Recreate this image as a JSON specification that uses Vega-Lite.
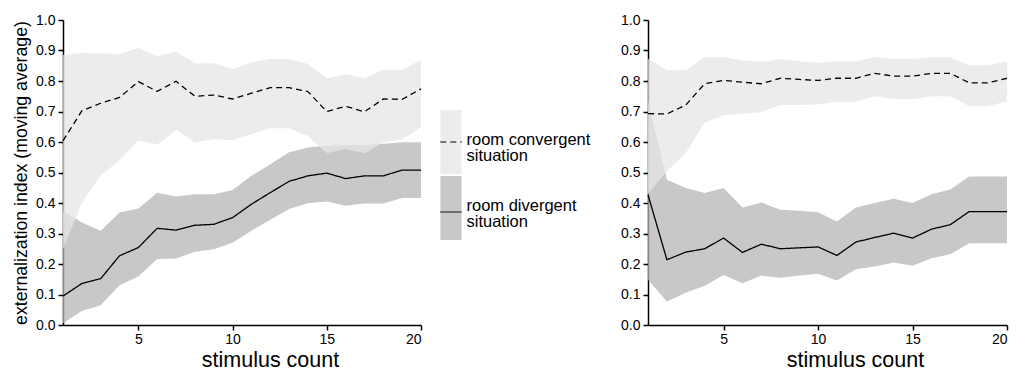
{
  "$schema": "https://vega.github.io/schema/vega-lite/v6.json",
  "padding": {"left": 12, "top": 13, "right": 0, "bottom": 0},
  "background": "white",
  "config": {
    "view": {"stroke": null},
    "font": "Liberation Sans",
    "axis": {"grid": false, "domainColor": "#000", "domainWidth": 1.5, "tickColor": "#000", "tickWidth": 1.5, "tickSize": 5, "labelFont": "Liberation Sans", "labelFontSize": 14, "labelColor": "#000", "titleFont": "Liberation Sans", "titleFontWeight": "normal", "titleColor": "#000", "labelPadding": 2, "labelOverlap": false},
    "axisX": {"titleFontSize": 21.5, "titlePadding": 3},
    "axisY": {"titleFontSize": 17.7, "titlePadding": 5, "labelPadding": 3}
  },
  "datasets": {
    "left": [
      {"x": 1, "situation": "room convergent situation", "mean": 0.604, "lo": 0.249, "hi": 0.885},
      {"x": 2, "situation": "room convergent situation", "mean": 0.702, "lo": 0.40, "hi": 0.892},
      {"x": 3, "situation": "room convergent situation", "mean": 0.727, "lo": 0.49, "hi": 0.891},
      {"x": 4, "situation": "room convergent situation", "mean": 0.746, "lo": 0.54, "hi": 0.888},
      {"x": 5, "situation": "room convergent situation", "mean": 0.798, "lo": 0.606, "hi": 0.908},
      {"x": 6, "situation": "room convergent situation", "mean": 0.766, "lo": 0.591, "hi": 0.881},
      {"x": 7, "situation": "room convergent situation", "mean": 0.799, "lo": 0.639, "hi": 0.896},
      {"x": 8, "situation": "room convergent situation", "mean": 0.750, "lo": 0.599, "hi": 0.858},
      {"x": 9, "situation": "room convergent situation", "mean": 0.754, "lo": 0.609, "hi": 0.858},
      {"x": 10, "situation": "room convergent situation", "mean": 0.741, "lo": 0.606, "hi": 0.839},
      {"x": 11, "situation": "room convergent situation", "mean": 0.760, "lo": 0.626, "hi": 0.861},
      {"x": 12, "situation": "room convergent situation", "mean": 0.778, "lo": 0.645, "hi": 0.872},
      {"x": 13, "situation": "room convergent situation", "mean": 0.778, "lo": 0.645, "hi": 0.872},
      {"x": 14, "situation": "room convergent situation", "mean": 0.765, "lo": 0.620, "hi": 0.856},
      {"x": 15, "situation": "room convergent situation", "mean": 0.700, "lo": 0.563, "hi": 0.809},
      {"x": 16, "situation": "room convergent situation", "mean": 0.717, "lo": 0.577, "hi": 0.822},
      {"x": 17, "situation": "room convergent situation", "mean": 0.699, "lo": 0.563, "hi": 0.809},
      {"x": 18, "situation": "room convergent situation", "mean": 0.741, "lo": 0.599, "hi": 0.837},
      {"x": 19, "situation": "room convergent situation", "mean": 0.740, "lo": 0.609, "hi": 0.837},
      {"x": 20, "situation": "room convergent situation", "mean": 0.774, "lo": 0.648, "hi": 0.870},
      {"x": 1, "situation": "room divergent situation", "mean": 0.095, "lo": 0.006, "hi": 0.374},
      {"x": 2, "situation": "room divergent situation", "mean": 0.136, "lo": 0.046, "hi": 0.336},
      {"x": 3, "situation": "room divergent situation", "mean": 0.152, "lo": 0.065, "hi": 0.309},
      {"x": 4, "situation": "room divergent situation", "mean": 0.227, "lo": 0.130, "hi": 0.369},
      {"x": 5, "situation": "room divergent situation", "mean": 0.254, "lo": 0.159, "hi": 0.382},
      {"x": 6, "situation": "room divergent situation", "mean": 0.317, "lo": 0.216, "hi": 0.434},
      {"x": 7, "situation": "room divergent situation", "mean": 0.311, "lo": 0.218, "hi": 0.421},
      {"x": 8, "situation": "room divergent situation", "mean": 0.327, "lo": 0.240, "hi": 0.429},
      {"x": 9, "situation": "room divergent situation", "mean": 0.330, "lo": 0.248, "hi": 0.429},
      {"x": 10, "situation": "room divergent situation", "mean": 0.352, "lo": 0.270, "hi": 0.443},
      {"x": 11, "situation": "room divergent situation", "mean": 0.396, "lo": 0.309, "hi": 0.489},
      {"x": 12, "situation": "room divergent situation", "mean": 0.434, "lo": 0.345, "hi": 0.527},
      {"x": 13, "situation": "room divergent situation", "mean": 0.471, "lo": 0.380, "hi": 0.566},
      {"x": 14, "situation": "room divergent situation", "mean": 0.489, "lo": 0.399, "hi": 0.582},
      {"x": 15, "situation": "room divergent situation", "mean": 0.498, "lo": 0.405, "hi": 0.588},
      {"x": 16, "situation": "room divergent situation", "mean": 0.480, "lo": 0.391, "hi": 0.590},
      {"x": 17, "situation": "room divergent situation", "mean": 0.489, "lo": 0.398, "hi": 0.590},
      {"x": 18, "situation": "room divergent situation", "mean": 0.489, "lo": 0.398, "hi": 0.594},
      {"x": 19, "situation": "room divergent situation", "mean": 0.508, "lo": 0.416, "hi": 0.599},
      {"x": 20, "situation": "room divergent situation", "mean": 0.508, "lo": 0.416, "hi": 0.599}
    ],
    "right": [
      {"x": 1, "situation": "room convergent situation", "mean": 0.693, "lo": 0.43, "hi": 0.873},
      {"x": 2, "situation": "room convergent situation", "mean": 0.692, "lo": 0.504, "hi": 0.836},
      {"x": 3, "situation": "room convergent situation", "mean": 0.721, "lo": 0.564, "hi": 0.836},
      {"x": 4, "situation": "room convergent situation", "mean": 0.791, "lo": 0.663, "hi": 0.878},
      {"x": 5, "situation": "room convergent situation", "mean": 0.802, "lo": 0.688, "hi": 0.878},
      {"x": 6, "situation": "room convergent situation", "mean": 0.796, "lo": 0.693, "hi": 0.867},
      {"x": 7, "situation": "room convergent situation", "mean": 0.791, "lo": 0.698, "hi": 0.863},
      {"x": 8, "situation": "room convergent situation", "mean": 0.809, "lo": 0.721, "hi": 0.871},
      {"x": 9, "situation": "room convergent situation", "mean": 0.805, "lo": 0.721, "hi": 0.865},
      {"x": 10, "situation": "room convergent situation", "mean": 0.802, "lo": 0.723, "hi": 0.860},
      {"x": 11, "situation": "room convergent situation", "mean": 0.809, "lo": 0.732, "hi": 0.865},
      {"x": 12, "situation": "room convergent situation", "mean": 0.809, "lo": 0.732, "hi": 0.865},
      {"x": 13, "situation": "room convergent situation", "mean": 0.825, "lo": 0.750, "hi": 0.878},
      {"x": 14, "situation": "room convergent situation", "mean": 0.816, "lo": 0.741, "hi": 0.873},
      {"x": 15, "situation": "room convergent situation", "mean": 0.816, "lo": 0.741, "hi": 0.873},
      {"x": 16, "situation": "room convergent situation", "mean": 0.825, "lo": 0.750, "hi": 0.878},
      {"x": 17, "situation": "room convergent situation", "mean": 0.825, "lo": 0.750, "hi": 0.878},
      {"x": 18, "situation": "room convergent situation", "mean": 0.794, "lo": 0.717, "hi": 0.852},
      {"x": 19, "situation": "room convergent situation", "mean": 0.794, "lo": 0.717, "hi": 0.852},
      {"x": 20, "situation": "room convergent situation", "mean": 0.809, "lo": 0.734, "hi": 0.865},
      {"x": 1, "situation": "room divergent situation", "mean": 0.427, "lo": 0.148, "hi": 0.735},
      {"x": 2, "situation": "room divergent situation", "mean": 0.214, "lo": 0.077, "hi": 0.476},
      {"x": 3, "situation": "room divergent situation", "mean": 0.239, "lo": 0.106, "hi": 0.449},
      {"x": 4, "situation": "room divergent situation", "mean": 0.250, "lo": 0.129, "hi": 0.433},
      {"x": 5, "situation": "room divergent situation", "mean": 0.285, "lo": 0.164, "hi": 0.449},
      {"x": 6, "situation": "room divergent situation", "mean": 0.238, "lo": 0.137, "hi": 0.385},
      {"x": 7, "situation": "room divergent situation", "mean": 0.265, "lo": 0.162, "hi": 0.402},
      {"x": 8, "situation": "room divergent situation", "mean": 0.250, "lo": 0.155, "hi": 0.378},
      {"x": 9, "situation": "room divergent situation", "mean": 0.253, "lo": 0.162, "hi": 0.375},
      {"x": 10, "situation": "room divergent situation", "mean": 0.256, "lo": 0.168, "hi": 0.370},
      {"x": 11, "situation": "room divergent situation", "mean": 0.228, "lo": 0.146, "hi": 0.339},
      {"x": 12, "situation": "room divergent situation", "mean": 0.272, "lo": 0.183, "hi": 0.385},
      {"x": 13, "situation": "room divergent situation", "mean": 0.287, "lo": 0.192, "hi": 0.400},
      {"x": 14, "situation": "room divergent situation", "mean": 0.301, "lo": 0.205, "hi": 0.414},
      {"x": 15, "situation": "room divergent situation", "mean": 0.285, "lo": 0.194, "hi": 0.400},
      {"x": 16, "situation": "room divergent situation", "mean": 0.314, "lo": 0.219, "hi": 0.429},
      {"x": 17, "situation": "room divergent situation", "mean": 0.329, "lo": 0.232, "hi": 0.444},
      {"x": 18, "situation": "room divergent situation", "mean": 0.372, "lo": 0.268, "hi": 0.487},
      {"x": 19, "situation": "room divergent situation", "mean": 0.372, "lo": 0.268, "hi": 0.487},
      {"x": 20, "situation": "room divergent situation", "mean": 0.372, "lo": 0.268, "hi": 0.487}
    ]
  },
  "spacing": 227,
  "bounds": "flush",
  "resolve": {"legend": {"fill": "independent", "strokeDash": "independent"}},
  "hconcat": [
    {
      "width": 358,
      "height": 305,
      "data": {"name": "left"},
      "encoding": {
        "x": {"field": "x", "type": "quantitative", "scale": {"domain": [1, 20], "nice": false, "zero": false}, "axis": {"values": [5, 10, 15, 20], "title": "stimulus count", "titleX": 207}}
      },
      "layer": [
        {
          "transform": [{"filter": "datum.situation == 'room divergent situation'"}],
          "mark": {"type": "area", "opacity": 0.75},
          "encoding": {
            "y": {"field": "lo", "type": "quantitative", "scale": {"domain": [0, 1], "nice": false}, "axis": {"values": [0, 0.1, 0.2, 0.3, 0.4, 0.5, 0.6, 0.7, 0.8, 0.9, 1], "format": ".1f", "title": "externalization index (moving average)"}},
            "y2": {"field": "hi"},
            "fill": {"field": "situation", "type": "nominal", "scale": {"domain": ["room convergent situation", "room divergent situation"], "range": ["#e6e6e6", "#b6b6b6"]},
              "legend": {"orient": "none", "legendX": 356, "legendY": 90, "title": null, "padding": 0, "symbolType": "M-0.33,-1H0.33V1H-0.33Z", "symbolSize": 4096, "symbolStrokeWidth": 0, "symbolOpacity": 0.75, "rowPadding": 2, "labelOffset": -16.5, "labelExpr": "[replace(datum.label, ' situation', ''), 'situation']", "labelFont": "Liberation Sans", "labelFontSize": 16.5, "labelColor": "#000", "labelLimit": 300,
                "encode": {"labels": {"update": {"lineHeight": {"value": 16}, "dy": {"value": -2}}}}}}
          }
        },
        {
          "transform": [{"filter": "datum.situation == 'room convergent situation'"}],
          "mark": {"type": "area", "opacity": 0.75},
          "encoding": {
            "y": {"field": "lo", "type": "quantitative", "scale": {"domain": [0, 1], "nice": false}, "axis": {"values": [0, 0.1, 0.2, 0.3, 0.4, 0.5, 0.6, 0.7, 0.8, 0.9, 1], "format": ".1f", "title": "externalization index (moving average)"}},
            "y2": {"field": "hi"},
            "fill": {"field": "situation", "type": "nominal"}
          }
        },
        {
          "mark": {"type": "line", "color": "#000", "strokeWidth": 1.3},
          "encoding": {
            "y": {"field": "mean", "type": "quantitative", "scale": {"domain": [0, 1], "nice": false}, "axis": {"values": [0, 0.1, 0.2, 0.3, 0.4, 0.5, 0.6, 0.7, 0.8, 0.9, 1], "format": ".1f", "title": "externalization index (moving average)"}},
            "strokeDash": {"field": "situation", "type": "nominal", "scale": {"range": [[6, 4], [1, 0]]},
              "legend": {"orient": "none", "legendX": 356, "legendY": 90, "title": null, "padding": 0, "symbolType": "M0,-1M0,1M-0.34,0H0.34", "symbolSize": 3969, "symbolStrokeWidth": 1, "symbolStrokeColor": "#000", "symbolFillColor": "transparent", "rowPadding": 2, "labelExpr": "''", "labelFontSize": 10}}
          }
        }
      ]
    },
    {
      "width": 359,
      "height": 305,
      "data": {"name": "right"},
      "encoding": {
        "x": {"field": "x", "type": "quantitative", "scale": {"domain": [1, 20], "nice": false, "zero": false}, "axis": {"values": [5, 10, 15, 20], "title": "stimulus count", "titleX": 207}}
      },
      "layer": [
        {
          "transform": [{"filter": "datum.situation == 'room divergent situation'"}],
          "mark": {"type": "area", "opacity": 0.75},
          "encoding": {
            "y": {"field": "lo", "type": "quantitative", "scale": {"domain": [0, 1], "nice": false}, "axis": {"values": [0, 0.1, 0.2, 0.3, 0.4, 0.5, 0.6, 0.7, 0.8, 0.9, 1], "format": ".1f", "title": null}},
            "y2": {"field": "hi"},
            "fill": {"field": "situation", "type": "nominal", "scale": {"domain": ["room convergent situation", "room divergent situation"], "range": ["#e6e6e6", "#b6b6b6"]}, "legend": null}
          }
        },
        {
          "transform": [{"filter": "datum.situation == 'room convergent situation'"}],
          "mark": {"type": "area", "opacity": 0.75},
          "encoding": {
            "y": {"field": "lo", "type": "quantitative", "scale": {"domain": [0, 1], "nice": false}, "axis": {"values": [0, 0.1, 0.2, 0.3, 0.4, 0.5, 0.6, 0.7, 0.8, 0.9, 1], "format": ".1f", "title": null}},
            "y2": {"field": "hi"},
            "fill": {"field": "situation", "type": "nominal", "legend": null}
          }
        },
        {
          "mark": {"type": "line", "color": "#000", "strokeWidth": 1.3},
          "encoding": {
            "y": {"field": "mean", "type": "quantitative", "scale": {"domain": [0, 1], "nice": false}, "axis": {"values": [0, 0.1, 0.2, 0.3, 0.4, 0.5, 0.6, 0.7, 0.8, 0.9, 1], "format": ".1f", "title": null}},
            "strokeDash": {"field": "situation", "type": "nominal", "scale": {"range": [[6, 4], [1, 0]]}, "legend": null}
          }
        }
      ]
    }
  ]
}
